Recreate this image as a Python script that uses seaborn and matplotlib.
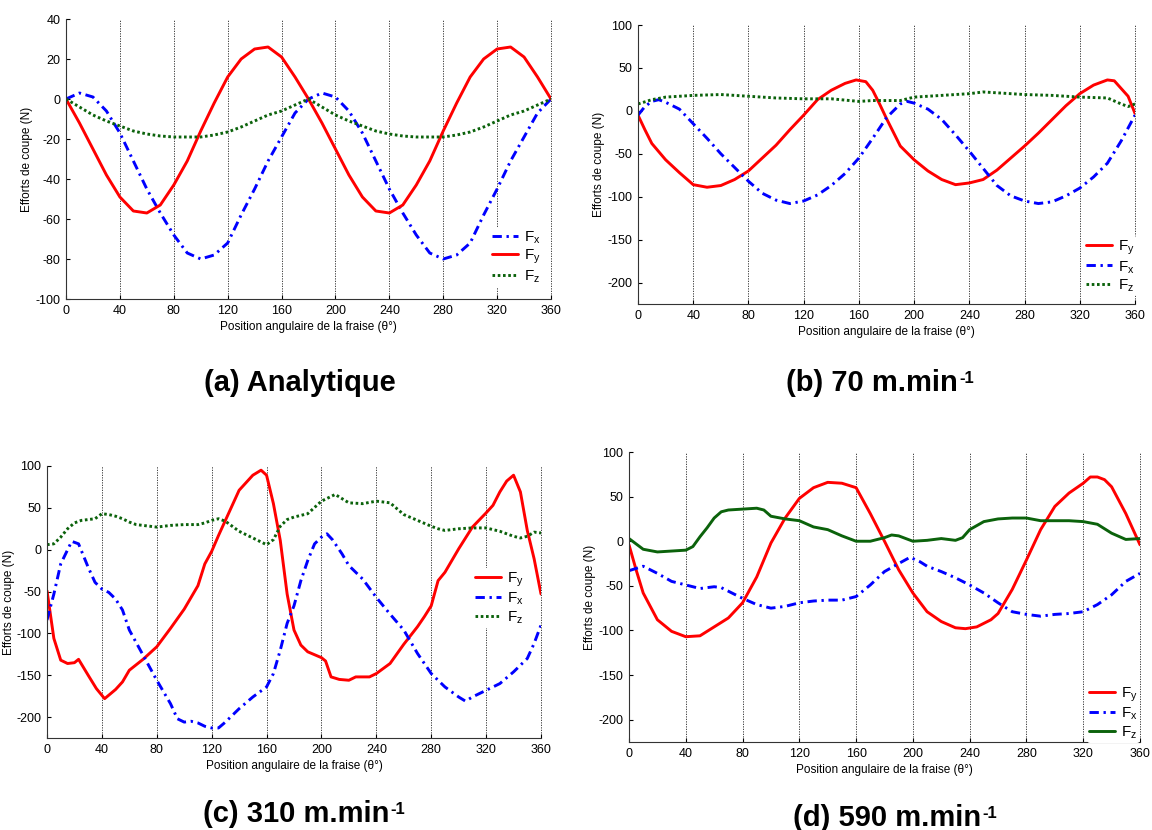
import numpy as np
import pandas as pd
import seaborn as sns
import matplotlib.pyplot as plt

sns.set_theme(style='white')
plt.rcParams['font.family'] = ['Liberation Sans', 'DejaVu Sans']
plt.rcParams['mathtext.fontset'] = 'custom'
plt.rcParams['mathtext.rm'] = 'Liberation Sans'
plt.rcParams['mathtext.bf'] = 'Liberation Sans:bold'
plt.rcParams['axes.unicode_minus'] = False
plt.rcParams['text.color'] = 'black'
plt.rcParams['axes.labelcolor'] = 'black'

# (a) Analytique
ang_a = [0, 10, 20, 30, 40, 50, 60, 70, 80, 90, 100, 110, 120, 130, 140, 150, 160, 170, 180,
         190, 200, 210, 220, 230, 240, 250, 260, 270, 280, 290, 300, 310, 320, 330, 340, 350, 360]
fx_a = [0, 3, 1, -6, -17, -31, -45, -57, -68, -77, -80, -78, -72, -58, -45, -31, -19, -7, 0,
        3, 1, -6, -17, -31, -45, -57, -68, -77, -80, -78, -72, -58, -45, -31, -19, -7, 0]
fy_a = [0, -12, -25, -38, -49, -56, -57, -53, -43, -31, -16, -2, 11, 20, 25, 26, 21, 11, 0,
        -12, -25, -38, -49, -56, -57, -53, -43, -31, -16, -2, 11, 20, 25, 26, 21, 11, 0]
fz_a = [0, -4, -8, -11, -13.5, -16, -17.5, -18.5, -19, -19, -19, -18, -16.5, -14, -11, -8, -6, -3, 0,
        -4, -8, -11, -13.5, -16, -17.5, -18.5, -19, -19, -19, -18, -16.5, -14, -11, -8, -6, -3, 0]

# (b) 70 m/min
ang_fy_b = [0, 5, 10, 20, 30, 40, 50, 60, 70, 80, 90, 100, 110, 120, 130, 140, 150, 158, 165, 170, 175,
            180, 190, 200, 210, 220, 230, 240, 250, 260, 270, 280, 290, 300, 310, 320, 330, 340, 345,
            350, 355, 360]
fy_b = [-5, -22, -38, -57, -72, -86, -89, -87, -80, -70, -55, -40, -22, -5, 13, 24, 32, 36, 34, 24, 8,
        -9, -41, -57, -70, -80, -86, -84, -80, -69, -55, -41, -26, -10, 6, 20, 30, 36, 35,
        26, 17, -3]
ang_fx_b = [0, 5, 10, 15, 20, 30, 40, 50, 60, 70, 80, 90, 100, 110, 120, 130, 140, 150, 160, 170,
            180, 190, 195, 200, 210, 220, 230, 240, 250, 260, 270, 280, 290, 300, 310, 320, 330, 340,
            350, 360]
fx_b = [-5, 5, 11, 13, 10, 2, -15, -32, -50, -66, -82, -96, -104, -108, -105, -98, -87, -73, -55, -32,
        -8, 8, 11, 9, 2, -10, -28, -47, -67, -87, -99, -105, -108, -106, -99, -90, -77, -61,
        -35, -5]
ang_fz_b = [0, 10, 20, 40, 60, 80, 100, 120, 140, 160, 170, 190, 200, 220, 240, 250, 260, 280, 300,
            320, 340, 350, 355, 360]
fz_b = [8, 13, 16, 18, 19, 17, 15, 14, 14, 11, 12, 12, 16, 18, 20, 22, 21, 19, 18,
        16, 15, 8, 5, 8]

# (c) 310 m/min
ang_fy_c = [0, 5, 10, 15, 20, 23, 30, 36, 42, 50, 55, 60, 70, 80, 90, 100, 110, 115, 120, 125,
            130, 140, 150, 156, 160, 165, 170, 175, 180, 185, 190, 200, 203, 207, 213, 220, 225, 235,
            240, 250, 260, 270, 275, 280, 285, 290, 300, 310, 320, 325, 330, 335, 340, 345, 350, 355, 360]
fy_c = [-49, -106, -132, -136, -135, -131, -150, -166, -178, -167, -158, -144, -131, -116, -94, -71, -43, -17, -2, 17,
        35, 71, 89, 95, 89, 55, 11, -53, -96, -114, -122, -129, -133, -152, -155, -156, -152, -152,
        -148, -136, -113, -92, -80, -67, -37, -27, 1, 27, 44, 53, 69, 82, 89, 69, 23, -11, -53]
ang_fx_c = [0, 5, 10, 18, 23, 30, 35, 40, 45, 50, 55, 60, 70, 80, 90, 95, 100, 105, 110, 115,
            120, 125, 130, 140, 150, 160, 165, 170, 175, 180, 185, 190, 195, 200, 204, 208, 215, 220,
            230, 240, 250, 260, 270, 280, 290, 300, 305, 310, 320, 330, 340, 350, 355, 360]
fx_c = [-84, -53, -17, 10, 7, -21, -39, -47, -51, -59, -72, -96, -126, -156, -184, -202, -206, -205, -207, -211,
        -213, -213, -206, -190, -176, -164, -148, -120, -88, -67, -37, -13, 7, 15, 19, 12, -5, -19,
        -35, -57, -77, -96, -124, -148, -164, -176, -181, -176, -168, -160, -146, -130, -112, -90]
ang_fz_c = [0, 5, 10, 15, 20, 25, 30, 35, 40, 45, 50, 55, 60, 65, 70, 80, 90, 100, 110, 115,
            120, 125, 130, 140, 150, 160, 165, 170, 175, 180, 190, 200, 210, 220, 230, 240, 250, 260,
            270, 280, 285, 290, 300, 310, 320, 330, 340, 345, 350, 355, 360]
fz_c = [6, 7, 15, 25, 32, 35, 36, 37, 43, 42, 40, 37, 33, 30, 29, 27, 29, 30, 30, 32,
        35, 37, 34, 22, 14, 6, 12, 28, 36, 39, 43, 58, 66, 56, 55, 58, 56, 42,
        35, 28, 25, 23, 25, 26, 26, 22, 16, 14, 16, 21, 20]

# (d) 590 m/min
ang_fy_d = [0, 5, 10, 20, 30, 40, 50, 60, 70, 80, 90, 100, 110, 120, 130, 140, 150, 160, 170, 180,
            190, 200, 210, 220, 230, 237, 245, 255, 260, 270, 280, 290, 300, 310, 320, 325, 330, 335,
            340, 350, 360]
fy_d = [-4, -32, -58, -88, -101, -107, -106, -96, -86, -69, -40, -2, 26, 48, 60, 66, 65, 60, 31, 0,
        -32, -58, -79, -90, -97, -98, -96, -88, -81, -54, -21, 13, 39, 54, 65, 72, 72, 69,
        61, 31, -4]
ang_fx_d = [0, 10, 20, 30, 40, 50, 60, 65, 70, 80, 90, 100, 110, 120, 130, 140, 150, 160, 170, 180,
            190, 198, 205, 210, 220, 230, 240, 250, 260, 270, 280, 290, 300, 310, 320, 330, 340, 350, 360]
fx_d = [-33, -28, -36, -45, -49, -53, -51, -52, -56, -64, -71, -75, -73, -69, -67, -66, -66, -62, -49, -34,
        -25, -18, -23, -28, -34, -41, -49, -58, -69, -79, -82, -84, -82, -81, -79, -71, -60, -45, -36]
ang_fz_d = [0, 5, 10, 20, 30, 40, 45, 50, 55, 60, 65, 70, 80, 90, 95, 100, 110, 120, 130, 140,
            150, 160, 170, 180, 185, 190, 200, 210, 220, 230, 235, 240, 250, 260, 270, 280, 290, 300,
            310, 320, 330, 340, 350, 360]
fz_d = [3, -3, -9, -12, -11, -10, -6, 5, 15, 26, 33, 35, 36, 37, 35, 28, 25, 23, 16, 13,
        6, 0, 0, 4, 7, 6, 0, 1, 3, 1, 4, 13, 22, 25, 26, 26, 23, 23,
        23, 22, 19, 9, 2, 3]

x_ticks = [0, 40, 80, 120, 160, 200, 240, 280, 320, 360]
title_main = ['(a) Analytique', '(b) 70 m.min', '(c) 310 m.min', '(d) 590 m.min']
title_sup = ['', '-1', '-1', '-1']

RED = '#ff0000'
BLUE = '#0000ff'
GREEN = '#0b620b'
dashdot = (0, (3.2, 1.6, 0.8, 1.6))
dotted = (0, (0.9, 0.9))

fig = plt.figure(figsize=(11.52, 8.30), dpi=100)

W, H = 1152, 830
def add_axes(left, right, top, bottom):
    return fig.add_axes([left / W, 1 - bottom / H, (right - left) / W, (bottom - top) / H])

ax_a = add_axes(66, 551, 19, 299)
ax_b = add_axes(638, 1135, 25, 304)
ax_c = add_axes(47, 541, 466, 738)
ax_d = add_axes(629, 1140, 452, 742)


def draw(ax, series, ylim, yticks, leg_loc, leg_anchor, ylabelpad=2):
    handles = []
    for ang, vals, color, ls, lab in series:
        sns.lineplot(x=ang, y=vals, ax=ax, color=color, linestyle=ls, linewidth=2.1,
                     label=lab, legend=False)
        handles.append(ax.lines[-1])
    ax.set_xlim(0, 360)
    ax.set_ylim(*ylim)
    ax.set_xticks(x_ticks)
    ax.set_yticks(yticks)
    ax.xaxis.grid(True, linestyle=(0, (1.5, 1.5)), color='#222222', linewidth=0.6)
    ax.yaxis.grid(False)
    for gl in ax.get_xgridlines():
        gl.set_clip_on(False)
    for s in ['top', 'right']:
        ax.spines[s].set_visible(False)
    for s in ['left', 'bottom']:
        ax.spines[s].set_color('#333333')
        ax.spines[s].set_linewidth(0.8)
    ax.tick_params(direction='in', length=3, width=0.8, labelsize=9, colors='black',
                   left=True, bottom=True, pad=4)
    ax.set_xlabel('Position angulaire de la fraise (θ°)', fontsize=8.5, labelpad=3)
    ax.set_ylabel('Efforts de coupe (N)', fontsize=8.5, labelpad=ylabelpad)
    leg = ax.legend(handles=handles, labels=[h.get_label() for h in handles],
                    loc=leg_loc, bbox_to_anchor=leg_anchor, frameon=True,
                    facecolor='white', edgecolor='none', framealpha=1, fontsize=11,
                    handlelength=1.7, handletextpad=0.4, labelspacing=0.12, borderpad=0.15)
    leg.set_zorder(5)


lab_x = r'F$_{\mathregular{x}}$'
lab_y = r'F$_{\mathregular{y}}$'
lab_z = r'F$_{\mathregular{z}}$'

draw(ax_a,
     [(ang_a, fx_a, BLUE, dashdot, lab_x),
      (ang_a, fy_a, RED, '-', lab_y),
      (ang_a, fz_a, GREEN, dotted, lab_z)],
     (-100, 40), [-100, -80, -60, -40, -20, 0, 20, 40], 'lower right', (1.0, 0.015))

draw(ax_b,
     [(ang_fy_b, fy_b, RED, '-', lab_y),
      (ang_fx_b, fx_b, BLUE, dashdot, lab_x),
      (ang_fz_b, fz_b, GREEN, dotted, lab_z)],
     (-225, 100), [-200, -150, -100, -50, 0, 50, 100], 'lower right', (1.02, 0.0))

draw(ax_c,
     [(ang_fy_c, fy_c, RED, '-', lab_y),
      (ang_fx_c, fx_c, BLUE, dashdot, lab_x),
      (ang_fz_c, fz_c, GREEN, dotted, lab_z)],
     (-225, 100), [-200, -150, -100, -50, 0, 50, 100], 'center right', (0.985, 0.515),
     ylabelpad=1)

draw(ax_d,
     [(ang_fy_d, fy_d, RED, '-', lab_y),
      (ang_fx_d, fx_d, BLUE, dashdot, lab_x),
      (ang_fz_d, fz_d, GREEN, '-', lab_z)],
     (-225, 100), [-200, -150, -100, -50, 0, 50, 100], 'lower right', (1.015, -0.03))

title_pos = [(300, 383), (872, 383), (296, 814), (887, 818)]
title_texts = []
for (tx, ty), t in zip(title_pos, title_main):
    title_texts.append(fig.text(tx / W, 1 - ty / H, t, ha='center', va='center', fontsize=21,
                                fontweight='bold', color='black'))

# superscript "-1" placed right after the main title text
fig.canvas.draw()
renderer = fig.canvas.get_renderer()
for t, sup in zip(title_texts, title_sup):
    if not sup:
        continue
    bb = t.get_window_extent(renderer)
    fig.text((bb.x1 + 1) / W, (bb.y1 - 2) / H, sup, ha='left', va='top', fontsize=12,
             fontweight='bold', color='black')

fig.savefig('out.png', dpi=100)
